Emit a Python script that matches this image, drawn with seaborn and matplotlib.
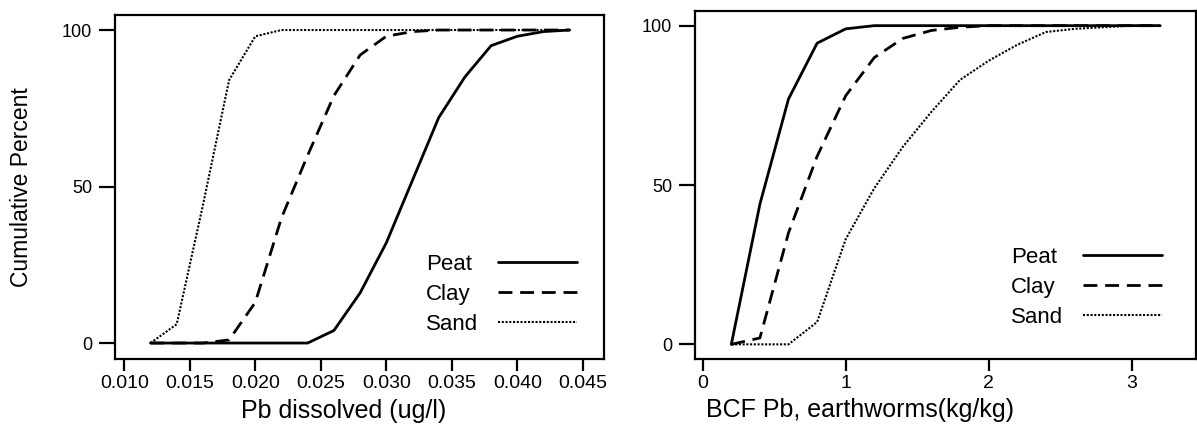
import matplotlib
matplotlib.use("Agg")
import matplotlib.pyplot as plt
import seaborn as sns
import pandas as pd

# left panel: dissolved Pb (ug/l), cumulative percent
pb_x = [0.012, 0.014, 0.016, 0.018, 0.020, 0.022, 0.024, 0.026, 0.028,
        0.030, 0.032, 0.034, 0.036, 0.038, 0.040, 0.042, 0.044]
pb_peat = [0, 0, 0, 0, 0, 0, 0, 4, 16, 32, 52, 72, 85, 95, 98, 99.5, 100]
pb_clay = [0, 0, 0, 1, 13, 40, 60, 79, 92, 98, 99.5, 100, 100, 100, 100, 100, 100]
pb_sand = [0, 6, 44, 84, 98, 100, 100, 100, 100, 100, 100, 100, 100, 100, 100, 100, 100]

# right panel: BCF Pb earthworms (kg/kg)
bcf_x = [0.2, 0.4, 0.6, 0.8, 1.0, 1.2, 1.4, 1.6, 1.8, 2.0, 2.2, 2.4, 2.6,
         2.8, 3.0, 3.2]
bcf_peat = [0, 44, 77, 94.5, 99, 100, 100, 100, 100, 100, 100, 100, 100, 100, 100, 100]
bcf_clay = [0, 2, 35, 59, 78, 90, 96, 98.5, 99.5, 100, 100, 100, 100, 100, 100, 100]
bcf_sand = [0, 0, 0, 7, 33, 49, 62, 73, 83, 89, 94, 98, 99, 99.5, 100, 100]

soils = ["Peat", "Clay", "Sand"]
styles = {"Peat": ("-", 2.0), "Clay": ((0, (5, 2.8)), 2.0), "Sand": ((0, (1, 0.8)), 1.5)}

sns.set_style("ticks", {"text.color": "black", "axes.labelcolor": "black",
                        "xtick.color": "black", "ytick.color": "black",
                        "axes.edgecolor": "black"})
plt.rcParams["font.family"] = ["Liberation Sans", "DejaVu Sans"]

fig = plt.figure(figsize=(11.97, 4.30), dpi=100)
ax1 = fig.add_axes([115 / 1197, 1 - 359 / 430, 489 / 1197, 344 / 430])
ax2 = fig.add_axes([695 / 1197, 1 - 359 / 430, 501 / 1197, 348 / 430])


def draw(ax, x, series, anchor):
    for name, vals in zip(soils, series):
        df = pd.DataFrame({"x": x, "y": vals})
        ls, lw = styles[name]
        sns.lineplot(data=df, x="x", y="y", ax=ax, color="black",
                     linestyle=ls, linewidth=lw, label=name)
    leg = ax.legend(loc="lower right", bbox_to_anchor=anchor, frameon=False,
                    markerfirst=False, handlelength=3.55, handletextpad=0.9,
                    labelspacing=0.4, fontsize=16, borderpad=0, borderaxespad=0)
    for sp in ax.spines.values():
        sp.set_linewidth(1.6)
    ax.set_yticks([0, 50, 100])
    ax.tick_params(axis="y", length=11.5, width=1.6, pad=5, labelsize=13)
    ax.tick_params(axis="x", length=8.5, width=1.6, pad=3, labelsize=14)
    return leg


def left_align(leg):
    # text left of the line, but labels flush left like the original
    fig.canvas.draw()
    r = fig.canvas.get_renderer()
    rows = leg._legend_handle_box.get_children()[0].get_children()
    widths = [row.get_children()[0].get_window_extent(r).width for row in rows]
    for row, w in zip(rows, widths):
        row.sep += (max(widths) - w) * 72 / fig.dpi


leg1 = draw(ax1, pb_x, [pb_peat, pb_clay, pb_sand], (0.945, 0.07))
ax1.set_xlim(0.00929, 0.04662)
ax1.set_ylim(-5.1, 104.8)
ax1.set_xticks([0.010, 0.015, 0.020, 0.025, 0.030, 0.035, 0.040, 0.045])
ax1.set_xticklabels(["0.010", "0.015", "0.020", "0.025", "0.030", "0.035", "0.040", "0.045"])
ax1.set_xlabel("Pb dissolved (ug/l)", fontsize=18)
ax1.xaxis.set_label_coords(0.467, -0.115)
ax1.set_ylabel("Cumulative Percent", fontsize=16.5)
ax1.yaxis.set_label_coords(-0.168, 0.5)

leg2 = draw(ax2, bcf_x, [bcf_peat, bcf_clay, bcf_sand], (0.932, 0.09))
ax2.set_xlim(-0.054, 3.45)
ax2.set_ylim(-4.6, 104.6)
ax2.set_xticks([0, 1, 2, 3])
ax2.set_xlabel("BCF Pb, earthworms(kg/kg)", fontsize=18)
ax2.xaxis.set_label_coords(0.329, -0.112)
ax2.set_ylabel("")

left_align(leg1)
left_align(leg2)

fig.savefig("out.png", dpi=100)
